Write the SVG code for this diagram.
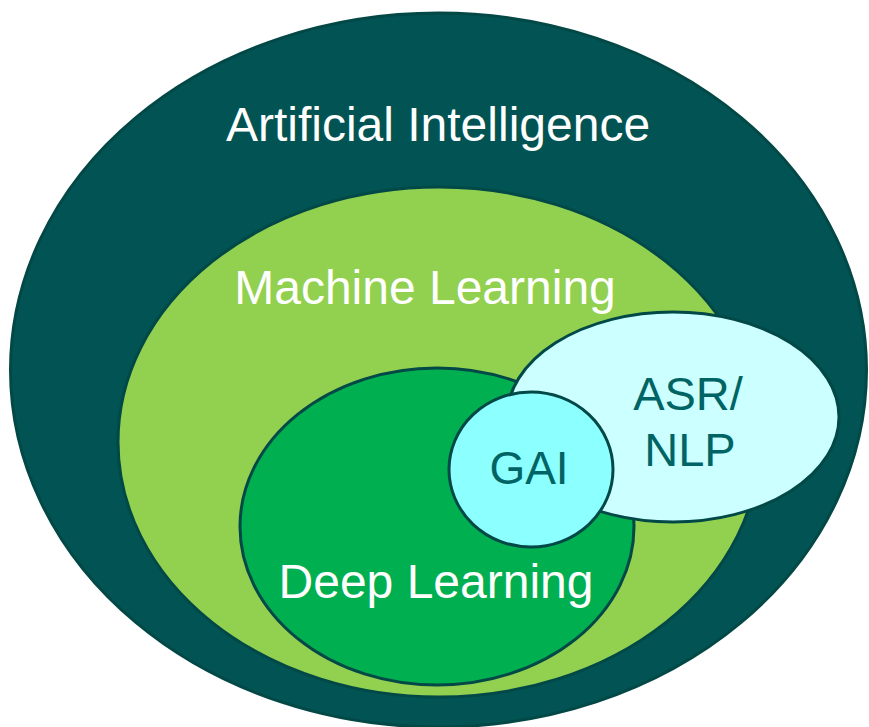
<svg xmlns="http://www.w3.org/2000/svg" width="869" height="727" viewBox="0 0 869 727">
<style>
.shape{stroke:#024846;stroke-width:3}
.lbl{font-family:"Liberation Sans",Arial,sans-serif;text-anchor:middle}
.w{fill:#ffffff}
.d{fill:#006464}
</style>
<rect width="869" height="727" fill="#ffffff"/>
<g id="ai">
<ellipse class="shape" cx="438.5" cy="370" rx="428" ry="357" fill="#015453"/>
<text class="lbl w" x="438" y="141" font-size="48">Artificial Intelligence</text>
</g>
<g id="ml">
<ellipse class="shape" cx="439" cy="442" rx="321" ry="255" fill="#92D050"/>
<text class="lbl w" x="425" y="304" font-size="48">Machine Learning</text>
</g>
<g id="dl">
<ellipse class="shape" cx="437" cy="526.5" rx="197" ry="158.5" fill="#00AF4F"/>
<text class="lbl w" x="436" y="598" font-size="48">Deep Learning</text>
</g>
<g id="asr">
<ellipse class="shape" cx="673" cy="417" rx="166" ry="105" fill="#CCFFFF"/>
<text class="lbl d" x="688" y="410" font-size="47">ASR/</text>
<text class="lbl d" x="690" y="466" font-size="47">NLP</text>
</g>
<g id="gai">
<ellipse class="shape" cx="531" cy="469.5" rx="82" ry="77.5" fill="#8CFFFF"/>
<text class="lbl d" x="529" y="484" font-size="46">GAI</text>
</g>
<g id="connectors"></g>
</svg>
